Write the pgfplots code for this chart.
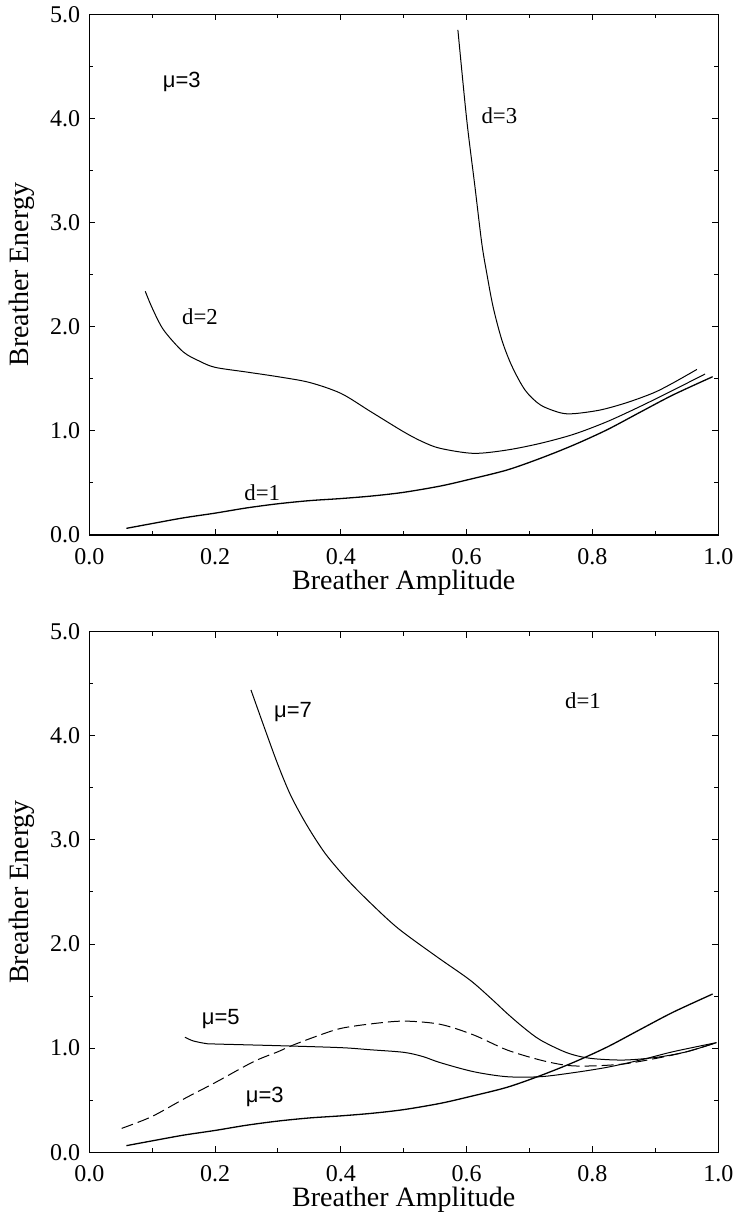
\documentclass[border=0pt]{standalone}
\usepackage{fontspec}
\setmainfont{Liberation Serif}
\newfontfamily\sansmu{Liberation Sans}
\usepackage{pgfplots}
\pgfplotsset{compat=1.18}

\pgfplotsset{breath/.style={
  scale only axis, width=314.5pt, height=260.35pt,
  xmin=0, xmax=1, ymin=0, ymax=5,
  xtick={0,0.2,0.4,0.6,0.8,1}, minor xtick={0.1,0.3,0.5,0.7,0.9},
  ytick={0,1,2,3,4,5}, minor ytick={0.5,1.5,2.5,3.5,4.5},
  tick align=inside, xtick pos=both, ytick pos=both,
  major tick length=3pt, minor tick length=2pt,
  every tick/.style={black, line width=0.5pt},
  axis line style={line width=0.6pt},
  /pgf/number format/.cd, fixed, fixed zerofill, precision=1, assume math mode=true, /pgfplots/.cd,
  tick label style={font=\fontsize{12}{14}\selectfont},
  xticklabel style={anchor=north, yshift=-3pt},
  yticklabel style={anchor=east, xshift=-1pt},
  label style={font=\fontsize{14}{16}\selectfont},
  xlabel={Breather Amplitude}, ylabel={Breather Energy},
  xlabel style={at={(axis description cs:0.5,-0.092)}, anchor=center},
  ylabel style={at={(axis description cs:-0.1065,0.5)}, anchor=center},
  cycle list={{black}},
  every axis plot/.style={black, line width=0.5pt, smooth, no markers},
}}

\begin{document}
\begin{tikzpicture}
\useasboundingbox (-44.65pt,-344pt) rectangle (323.85pt,267.5pt);
% ---------------- top panel ----------------
\begin{axis}[breath, at={(0,0)}, anchor=south west]
% d=1
\addplot[black, line width=0.65pt] coordinates {(0.059,0.064) (0.1,0.11) (0.15,0.165) (0.2,0.21) (0.25,0.26) (0.3,0.30) (0.35,0.33) (0.4,0.35) (0.45,0.375) (0.5,0.41) (0.558,0.47) (0.605,0.535) (0.664,0.624) (0.717,0.736) (0.770,0.864) (0.823,1.01) (0.876,1.18) (0.928,1.345) (0.991,1.52)};
% d=2
\addplot[black] coordinates {(0.089,2.34) (0.10,2.18) (0.118,1.97) (0.149,1.76) (0.175,1.67) (0.2,1.61) (0.25,1.565) (0.3,1.52) (0.35,1.465) (0.4,1.36) (0.446,1.19) (0.5,0.99) (0.53,0.895) (0.558,0.832) (0.611,0.784) (0.664,0.816) (0.717,0.88) (0.770,0.967) (0.823,1.088) (0.876,1.235) (0.928,1.39) (0.979,1.546)};
% d=3
\addplot[black] coordinates {(0.586,4.85) (0.600,3.99) (0.613,3.35) (0.624,2.80) (0.632,2.51) (0.642,2.19) (0.656,1.87) (0.672,1.62) (0.693,1.39) (0.717,1.25) (0.748,1.175) (0.770,1.165) (0.812,1.20) (0.854,1.27) (0.897,1.365) (0.928,1.46) (0.966,1.59)};
\node[font=\sansmu\fontsize{11}{13}\selectfont] at (axis cs:0.147,4.35) {μ=3};
\node[font=\fontsize{11.4}{13}\selectfont] at (axis cs:0.652,4.03) {d=3};
\node[font=\fontsize{11.4}{13}\selectfont] at (axis cs:0.176,2.10) {d=2};
\node[font=\fontsize{11.4}{13}\selectfont] at (axis cs:0.275,0.41) {d=1};
\end{axis}
% ---------------- bottom panel ----------------
\begin{axis}[breath, at={(0,-308.65pt)}, anchor=south west]
% mu=3
\addplot[black, line width=0.65pt] coordinates {(0.059,0.064) (0.1,0.11) (0.15,0.165) (0.2,0.21) (0.25,0.26) (0.3,0.30) (0.35,0.33) (0.4,0.35) (0.45,0.375) (0.5,0.41) (0.558,0.47) (0.605,0.535) (0.664,0.624) (0.717,0.736) (0.770,0.864) (0.823,1.01) (0.876,1.18) (0.928,1.345) (0.991,1.52)};
% mu=5
\addplot[black] coordinates {(0.152,1.105) (0.165,1.07) (0.185,1.045) (0.2,1.04) (0.3,1.024) (0.4,1.005) (0.446,0.985) (0.5,0.96) (0.53,0.92) (0.558,0.861) (0.611,0.774) (0.664,0.726) (0.717,0.726) (0.770,0.765) (0.823,0.816) (0.876,0.886) (0.928,0.966) (0.997,1.053)};
% dashed
\addplot[black, dash pattern=on 6pt off 2.5pt] coordinates {(0.0515,0.23) (0.099,0.342) (0.152,0.518) (0.2,0.669) (0.261,0.870) (0.3,0.966) (0.324,1.03) (0.367,1.127) (0.4,1.19) (0.446,1.232) (0.5,1.26) (0.558,1.229) (0.611,1.127) (0.664,0.983) (0.717,0.886) (0.759,0.835) (0.796,0.829) (0.849,0.848) (0.902,0.903) (0.950,0.966) (0.997,1.053)};
% mu=7
\addplot[black] coordinates {(0.257,4.44) (0.28,4.05) (0.30,3.72) (0.32,3.43) (0.345,3.15) (0.375,2.87) (0.41,2.62) (0.446,2.40) (0.491,2.15) (0.552,1.88) (0.605,1.655) (0.64,1.47) (0.664,1.335) (0.69,1.2) (0.717,1.079) (0.759,0.957) (0.796,0.903) (0.849,0.886) (0.902,0.912) (0.950,0.966) (0.997,1.053)};
\node[font=\sansmu\fontsize{11}{13}\selectfont] at (axis cs:0.324,4.23) {μ=7};
\node[font=\fontsize{11.4}{13}\selectfont] at (axis cs:0.785,4.34) {d=1};
\node[font=\sansmu\fontsize{11}{13}\selectfont] at (axis cs:0.209,1.277) {μ=5};
\node[font=\sansmu\fontsize{11}{13}\selectfont] at (axis cs:0.279,0.534) {μ=3};
\end{axis}
\end{tikzpicture}
\end{document}
